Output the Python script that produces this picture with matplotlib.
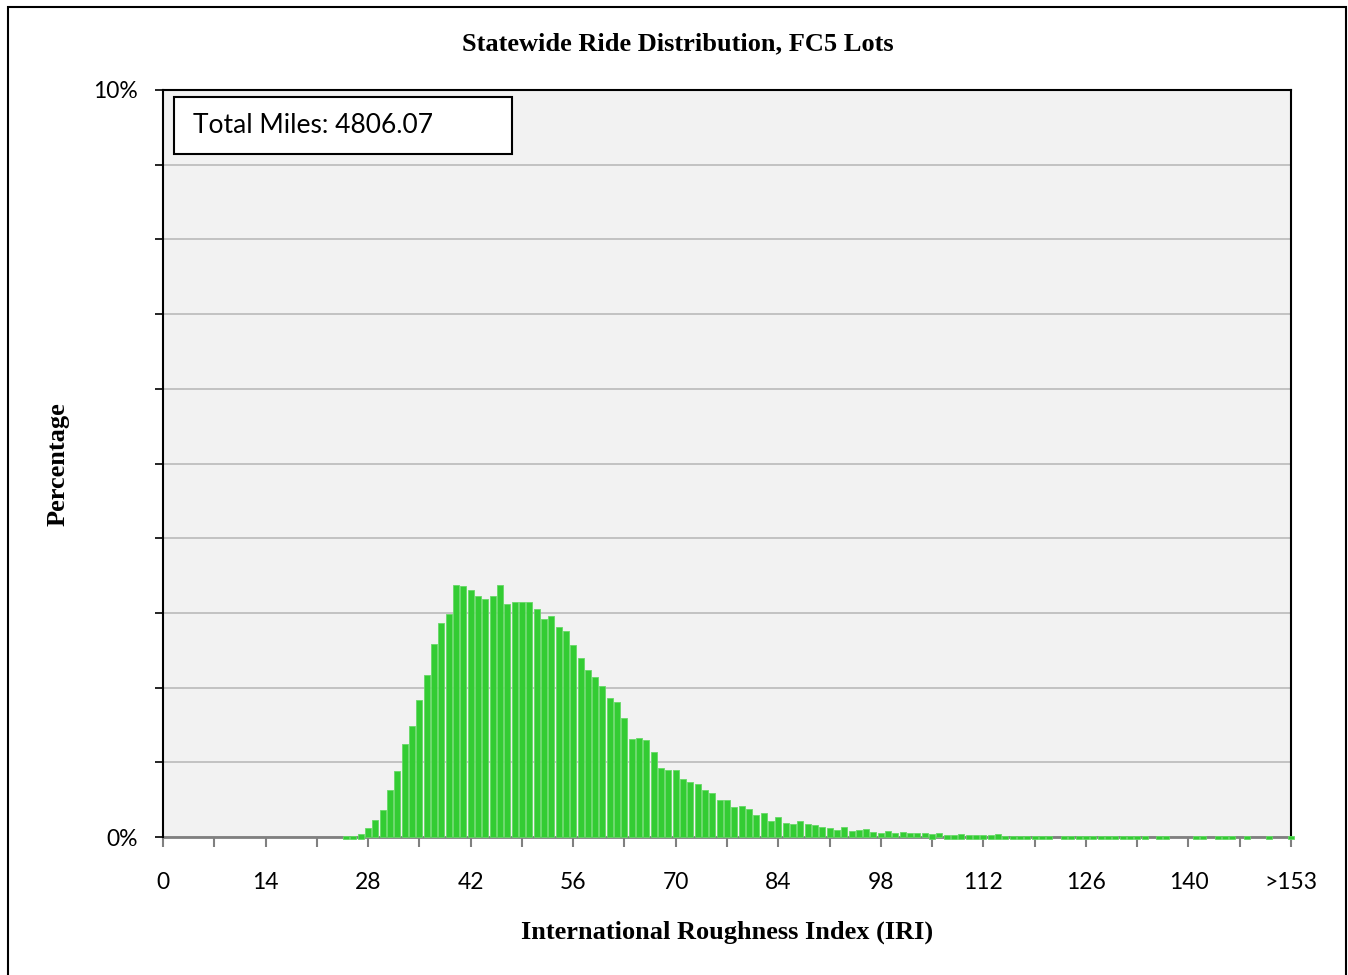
import numpy as np
import matplotlib.pyplot as plt
from matplotlib.patches import Rectangle
from matplotlib.ticker import FixedLocator, FuncFormatter

# IRI bins 0..154 (last bin shown as ">153"), share of miles in percent
iri_bins = list(range(155))
pct_miles = (
    [0.0] * 25 +
    [0.02, 0.02, 0.04, 0.12, 0.23, 0.36, 0.63, 0.88, 1.25, 1.49,   # 25-34
     1.84, 2.17, 2.59, 2.86, 2.99, 3.37, 3.36, 3.30, 3.23, 3.19,   # 35-44
     3.22, 3.38, 3.12, 3.14, 3.15, 3.14, 3.05, 2.92, 2.96, 2.81,   # 45-54
     2.76, 2.57, 2.40, 2.24, 2.14, 2.02, 1.86, 1.81, 1.59, 1.31,   # 55-64
     1.32, 1.30, 1.14, 0.93, 0.90, 0.90, 0.77, 0.73, 0.71, 0.63,   # 65-74
     0.59, 0.50, 0.49, 0.40, 0.42, 0.38, 0.30, 0.32, 0.22, 0.27,   # 75-84
     0.19, 0.18, 0.21, 0.17, 0.16, 0.14, 0.12, 0.09, 0.13, 0.08,   # 85-94
     0.10, 0.11, 0.07, 0.06, 0.08, 0.05, 0.07, 0.06, 0.05, 0.05,   # 95-104
     0.04, 0.05, 0.03, 0.03, 0.04, 0.03, 0.03, 0.03, 0.03, 0.04,   # 105-114
     0.02, 0.02, 0.02, 0.02, 0.02, 0.02, 0.02, 0.0, 0.02, 0.02,    # 115-124
     0.02, 0.015, 0.015, 0.015, 0.015, 0.015, 0.015, 0.015, 0.015, 0.015,  # 125-134
     0.0, 0.015, 0.015, 0.0, 0.0, 0.0, 0.015, 0.015, 0.0, 0.015,   # 135-144
     0.015, 0.015, 0.0, 0.015, 0.0, 0.0, 0.015, 0.0, 0.0, 0.015]   # 145-154
)
total_miles = 4806.07

title = "Statewide Ride Distribution, FC5 Lots"
xlabel = "International Roughness Index (IRI)"
ylabel = "Percentage"

fig = plt.figure(figsize=(13.48, 9.75), dpi=100)
ax = fig.add_axes([163 / 1348, 1 - 837 / 975, 1128 / 1348, 747 / 975])
ax.set_facecolor('#F2F2F2')

# bottom spine under the bars so the tiny tail bars still show as green dots
ax.spines['bottom'].set_color('#808080')
ax.spines['bottom'].set_linewidth(2)
ax.spines['bottom'].set_zorder(2)

bars = ax.bar(iri_bins, pct_miles, width=0.82, color='#33CC33',
              edgecolor='#66D966', linewidth=0.6, zorder=5, clip_on=False)
for b, v in zip(bars, pct_miles):
    if v == 0:
        b.set_visible(False)
    elif v < 0.05:
        # very small bins drawn as little marks straddling the axis line
        b.set_y(-0.025)
        b.set_height(v + 0.025)

ax.set_xlim(0, 154)
ax.set_ylim(0, 10)

# y axis: ticks every 1%, labels only at ends
ax.yaxis.set_major_locator(FixedLocator(range(0, 11)))
ax.yaxis.set_major_formatter(FuncFormatter(
    lambda v, p: f"{int(v)}%" if v in (0, 10) else ""))
ax.tick_params(axis='y', direction='out', length=6, width=1.2,
               color='black', pad=12, labelsize=16.5)
ax.grid(axis='y', color='#BFBFBF', linewidth=1.3, zorder=0)

# x axis: ticks every 7, labels every 14
ax.xaxis.set_major_locator(FixedLocator(range(0, 155, 7)))
ax.xaxis.set_major_formatter(FuncFormatter(
    lambda v, p: ">153" if v == 154 else (f"{int(v)}" if v % 14 == 0 else "")))
ax.tick_params(axis='x', direction='out', length=7, width=1.5,
               color='#808080', pad=18, labelsize=16.5)

for lab in ax.get_xticklabels() + ax.get_yticklabels():
    lab.set_family(['Lato', 'DejaVu Sans'])

for side in ['left', 'top', 'right']:
    ax.spines[side].set_color('black')
    ax.spines[side].set_linewidth(1.5)

# total miles box
ax.add_patch(Rectangle((0.0098, 0.914), 0.300, 0.0766, transform=ax.transAxes,
                       facecolor='white', edgecolor='black', linewidth=1.5,
                       zorder=6, clip_on=False))
ax.text(0.0266, 0.952, f"Total Miles: {total_miles:.2f}", transform=ax.transAxes,
        ha='left', va='center', fontsize=19, family=['Lato', 'DejaVu Sans'],
        zorder=7)

fig.text(0.503, 1 - 44 / 975, title, ha='center', va='center',
         fontsize=19, fontweight='bold', family='Liberation Serif')
fig.text(727 / 1348, 1 - 932 / 975, xlabel, ha='center', va='center',
         fontsize=19, fontweight='bold', family='Liberation Serif')
fig.text(58 / 1348, 1 - 464 / 975, ylabel, ha='center', va='center',
         rotation=90, fontsize=19, fontweight='bold', family='Liberation Serif')

# outer chart frame
fig.add_artist(Rectangle((8 / 1348, -0.02), 1338 / 1348, 1.02 - 7 / 975,
                         transform=fig.transFigure, fill=False,
                         edgecolor='black', linewidth=1.5))

fig.savefig("out.png", dpi=100)
